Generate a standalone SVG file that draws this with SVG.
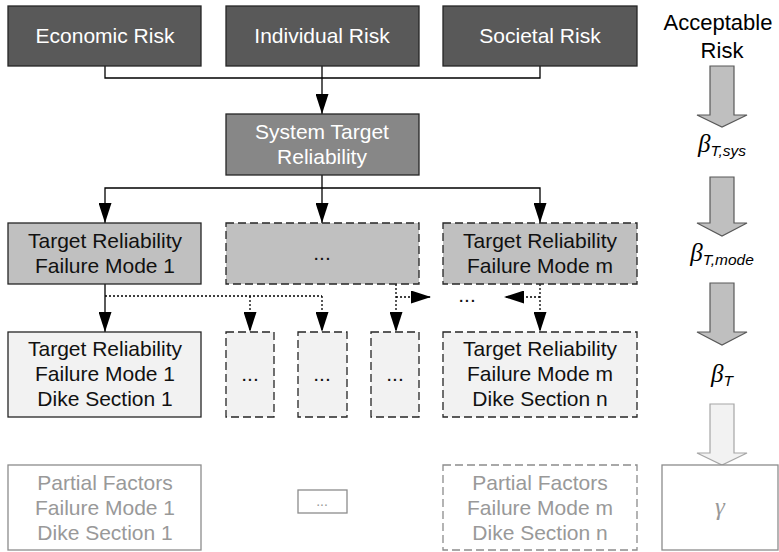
<svg xmlns="http://www.w3.org/2000/svg" width="779" height="552" viewBox="0 0 779 552">
<defs>
<marker id="ah" markerUnits="userSpaceOnUse" markerWidth="20" markerHeight="13" refX="20" refY="6.5" orient="auto">
<path d="M0,0 L20,6.5 L0,13 z" fill="#000"/>
</marker>
<style>
text{font-family:"Liberation Sans",Arial,sans-serif;font-size:21px;text-anchor:middle}
.dark rect{fill:#595959;stroke:#262626;stroke-width:1.3}
.dark text{fill:#ffffff}
.mid rect{fill:#878787;stroke:#262626;stroke-width:1.3}
.mid text{fill:#ffffff}
.l2 rect{fill:#c0c0c0;stroke:#262626;stroke-width:1.3}
.l2 text,.l3 text{fill:#111}
.l3 rect{fill:#f2f2f2;stroke:#262626;stroke-width:1.3}
.l4 rect{fill:#fff;stroke:#8c8c8c;stroke-width:1.3}
.l4 text{fill:#999}
.dash rect{stroke-dasharray:8 4}
.solid{fill:none;stroke:#000;stroke-width:1.3}
.dot{fill:none;stroke:#000;stroke-width:1.3;stroke-dasharray:2 2}
.barrow{fill:#bfbfbf;stroke:#595959;stroke-width:1.2}
.larrow{fill:#f2f2f2;stroke:#a6a6a6;stroke-width:1.2}
.greek{font-family:"Liberation Serif","DejaVu Serif",serif;font-style:italic;font-size:25px}
.sub{font-family:"Liberation Sans",Arial,sans-serif;font-style:italic;font-size:15.5px}
</style>
</defs>

<g id="connectors">
<polyline class="solid" points="105,66 105,78 540,78 540,66"/>
<line class="solid" x1="322" y1="66" x2="322" y2="114" marker-end="url(#ah)"/>
<line class="solid" x1="322" y1="175" x2="322" y2="223" marker-end="url(#ah)"/>
<polyline class="solid" points="322,188 105,188 105,223" marker-end="url(#ah)"/>
<polyline class="solid" points="322,188 540,188 540,223" marker-end="url(#ah)"/>
<line class="solid" x1="105" y1="284" x2="105" y2="332" marker-end="url(#ah)"/>
<line class="dot" x1="105" y1="296" x2="322" y2="296"/>
<line class="dot" x1="250" y1="296" x2="250" y2="332" marker-end="url(#ah)"/>
<line class="dot" x1="322" y1="296" x2="322" y2="332" marker-end="url(#ah)"/>
<line class="dot" x1="396" y1="284" x2="396" y2="332" marker-end="url(#ah)"/>
<line class="dot" x1="396" y1="297" x2="431" y2="297" marker-end="url(#ah)"/>
<line class="dot" x1="540" y1="284" x2="540" y2="332" marker-end="url(#ah)"/>
<line class="dot" x1="540" y1="297" x2="504" y2="297" marker-end="url(#ah)"/>
<text x="467" y="302" fill="#111">...</text>
</g>

<g id="economic-risk" class="dark"><rect x="8" y="6" width="193" height="60"/><text x="105" y="43">Economic Risk</text></g>
<g id="individual-risk" class="dark"><rect x="226" y="6" width="193" height="60"/><text x="322" y="43">Individual Risk</text></g>
<g id="societal-risk" class="dark"><rect x="443" y="6" width="194" height="60"/><text x="540" y="43">Societal Risk</text></g>

<g id="system-target" class="mid"><rect x="226" y="114" width="193" height="61"/><text x="322" y="139">System Target</text><text x="322" y="164">Reliability</text></g>

<g id="mode-1" class="l2"><rect x="8" y="223" width="193" height="61"/><text x="105" y="248">Target Reliability</text><text x="105" y="273">Failure Mode 1</text></g>
<g id="mode-dots" class="l2 dash"><rect x="226" y="223" width="193" height="61"/><text x="322" y="260">...</text></g>
<g id="mode-m" class="l2 dash"><rect x="443" y="223" width="194" height="61"/><text x="540" y="248">Target Reliability</text><text x="540" y="273">Failure Mode m</text></g>

<g id="sec-1" class="l3"><rect x="8" y="332" width="193" height="85"/><text x="105" y="356">Target Reliability</text><text x="105" y="381">Failure Mode 1</text><text x="105" y="406">Dike Section 1</text></g>
<g id="sec-a" class="l3 dash"><rect x="226" y="332" width="48" height="85"/><text x="250" y="381">...</text></g>
<g id="sec-b" class="l3 dash"><rect x="298" y="332" width="49" height="85"/><text x="322" y="381">...</text></g>
<g id="sec-c" class="l3 dash"><rect x="371" y="332" width="48" height="85"/><text x="395" y="381">...</text></g>
<g id="sec-n" class="l3 dash"><rect x="443" y="332" width="194" height="85"/><text x="540" y="356">Target Reliability</text><text x="540" y="381">Failure Mode m</text><text x="540" y="406">Dike Section n</text></g>

<g id="pf-1" class="l4"><rect x="8" y="465" width="193" height="85"/><text x="105" y="490">Partial Factors</text><text x="105" y="515">Failure Mode 1</text><text x="105" y="540">Dike Section 1</text></g>
<g id="pf-dots" class="l4"><rect x="298" y="490" width="49" height="23"/><text x="322" y="506" style="font-size:14px">...</text></g>
<g id="pf-n" class="l4 dash"><rect x="443" y="465" width="194" height="85"/><text x="540" y="490">Partial Factors</text><text x="540" y="515">Failure Mode m</text><text x="540" y="540">Dike Section n</text></g>

<g id="acceptable-risk"><text x="718" y="30" fill="#000" style="font-size:22px">Acceptable</text><text x="722" y="58" fill="#000" style="font-size:22px">Risk</text></g>
<g id="arrow-1"><polygon class="barrow" points="710,66 734,66 734,115 747,115 722,127 697,115 710,115"/></g>
<g id="beta-sys"><text x="722" y="152" fill="#000"><tspan class="greek">β</tspan><tspan class="sub" dy="4">T,sys</tspan></text></g>
<g id="arrow-2"><polygon class="barrow" points="710,177 734,177 734,223 747,223 722,236 697,223 710,223"/></g>
<g id="beta-mode"><text x="722" y="261" fill="#000"><tspan class="greek">β</tspan><tspan class="sub" dy="4">T,mode</tspan></text></g>
<g id="arrow-3"><polygon class="barrow" points="710,283 734,283 734,332 747,332 722,345 697,332 710,332"/></g>
<g id="beta-t"><text x="722" y="382" fill="#000"><tspan class="greek">β</tspan><tspan class="sub" dy="4">T</tspan></text></g>
<g id="arrow-4"><polygon class="larrow" points="710,404 734,404 734,453 747,453 722,465 697,453 710,453"/></g>
<g id="gamma" class="l4"><rect x="662" y="465" width="116" height="85"/><text x="720" y="515" class="greek" style="fill:#999">γ</text></g>
</svg>
